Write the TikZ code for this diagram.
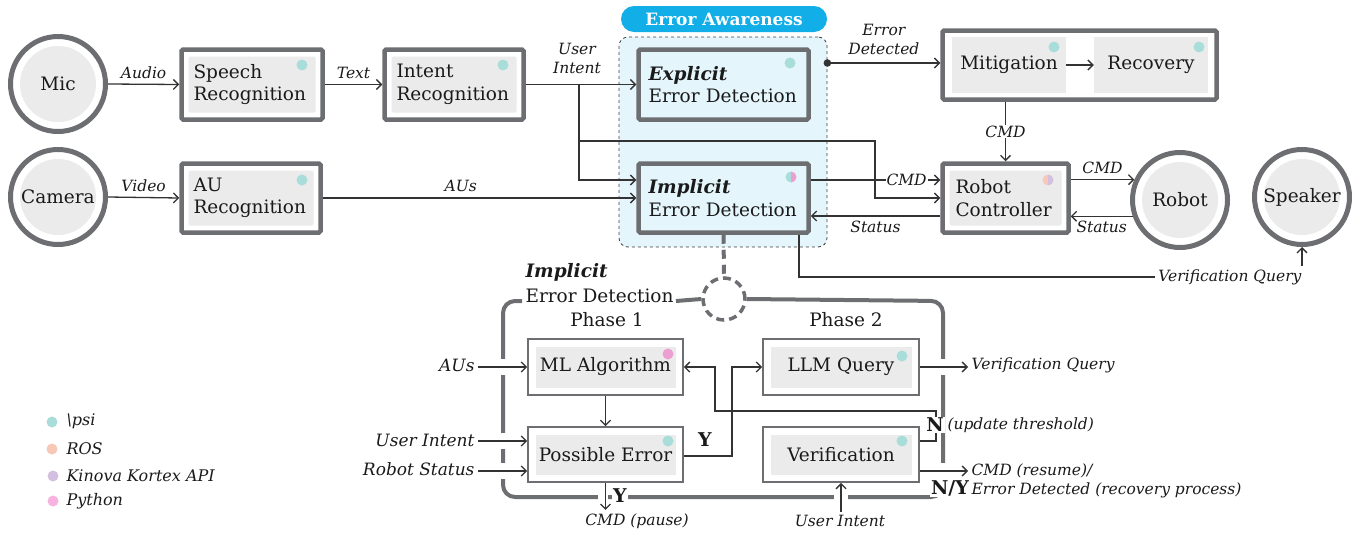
\documentclass[tikz,border=0pt]{standalone}
\usepackage{fontspec}
\setmainfont{DejaVu Serif}
\usetikzlibrary{arrows.meta,calc}
\definecolor{gb}{HTML}{6D6E71}
\definecolor{gf}{HTML}{EBEBEC}
\definecolor{tealdot}{HTML}{A9DDD9}
\definecolor{pinkdot}{HTML}{EE9FD2}
\definecolor{pydot}{HTML}{F6B3DF}
\definecolor{peachdot}{HTML}{F8C8B6}
\definecolor{purpdot}{HTML}{D3C0E0}
\definecolor{eacyan}{HTML}{12AEE8}
\definecolor{lblue}{HTML}{E4F5FC}
\definecolor{lnc}{HTML}{333333}
\definecolor{txt}{HTML}{1A1A1A}
\begin{document}
\begin{tikzpicture}[x=1pt,y=-1pt,
  every node/.style={font=\fontsize{18.5}{22.5}\selectfont, text=txt},
  bigbox/.style={draw=gb, line width=4.5pt, fill=white, rounded corners=1.5pt, inner xsep=12pt, align=left,
    path picture={\fill[gf] ([xshift=7pt,yshift=7pt]path picture bounding box.south west) rectangle ([xshift=-7pt,yshift=-7pt]path picture bounding box.north east);}},
  bluebox/.style={draw=gb, line width=4.5pt, fill=lblue, rounded corners=1.5pt, inner xsep=10pt, align=left},
  smallbox/.style={draw=gb, line width=1.8pt, fill=white, minimum width=155pt, minimum height=56pt,
    path picture={\fill[gf] ([xshift=7.5pt,yshift=7.5pt]path picture bounding box.south west) rectangle ([xshift=-7.5pt,yshift=-7.5pt]path picture bounding box.north east);}},
  dev/.style={circle, draw=gb, line width=5pt, fill=white, minimum size=95pt, inner sep=0pt,
    path picture={\fill[gf] (path picture bounding box.center) circle (38pt);}},
  conn/.style={draw=lnc, line width=1.3pt},
  arr/.style={conn, -{Straight Barb[length=5pt,width=10pt]}},
  lab/.style={font=\fontsize{15.5}{19}\selectfont\itshape},
  blab/.style={font=\fontsize{17}{20}\selectfont\itshape},
  leg/.style={font=\fontsize{16}{19}\selectfont\itshape, anchor=west},
  yn/.style={font=\fontsize{19}{22}\selectfont\bfseries},
]
\useasboundingbox (0,0) rectangle (1359,533);

% ---------- Error Awareness region ----------
\node[draw=black!75, dashed, line width=0.8pt, fill=lblue, rounded corners=9pt, minimum width=208pt, minimum height=210pt, inner sep=0pt] (ea) at (723,142) {};
\node[fill=eacyan, rounded corners=13pt, minimum width=206pt, minimum height=26pt, inner sep=0pt, text=white, font=\fontsize{17}{20}\selectfont\bfseries] (eatitle) at (724,19) {Error Awareness};

% ---------- devices ----------
\node[dev] (mic) at (58,84) {Mic};
\node[dev] (cam) at (58,197) {Camera};
\node[dev] (robot) at (1180,200) {Robot};
\node[dev] (spk) at (1302,197) {Speaker};

% ---------- top boxes ----------
\node[bigbox, minimum width=141pt, text width=117pt, minimum height=70pt] (speech) at (252,84.5) {Speech\\Recognition};
\node[bigbox, minimum width=139pt, text width=115pt, minimum height=70pt] (intent) at (454,84.5) {Intent\\Recognition};
\node[bigbox, minimum width=139pt, text width=115pt, minimum height=69pt] (au) at (251,198) {AU\\Recognition};
\node[bluebox, minimum width=170pt, text width=150pt, minimum height=70pt] (expl) at (723.5,84.5) {\textbf{\textit{Explicit}}\\Error Detection};
\node[bluebox, minimum width=170pt, text width=150pt, minimum height=69pt] (impl) at (723.5,198) {\textbf{\textit{Implicit}}\\Error Detection};
\node[draw=gb, line width=4.5pt, fill=white, rounded corners=1.5pt, minimum width=274pt, minimum height=69pt, inner sep=0pt] (mitbox) at (1079.5,65) {};
\node[fill=gf, minimum width=114pt, minimum height=56pt, inner sep=0pt] (mit) at (1009,65) {Mitigation};
\node[fill=gf, minimum width=114pt, minimum height=56pt, inner sep=0pt] (rec) at (1151,65) {Recovery};
\node[bigbox, minimum width=126pt, text width=100pt, minimum height=69pt, inner xsep=13pt] (rc) at (1005.5,198) {Robot\\Controller};

% dots in top boxes
\fill[tealdot] (302,65) circle (5.5pt);
\fill[tealdot] (503,65) circle (5.5pt);
\fill[tealdot] (302,180) circle (5.5pt);
\fill[tealdot] (790,63) circle (5.5pt);
\fill[tealdot] (1054,47) circle (5.5pt);
\fill[tealdot] (1199,47) circle (5.5pt);
\begin{scope}\clip (784,170) rectangle (791,184); \fill[tealdot] (791,177) circle (5.5pt);\end{scope}
\begin{scope}\clip (791,170) rectangle (798,184); \fill[pinkdot] (791,177) circle (5.5pt);\end{scope}
\begin{scope}\clip (1041,173) rectangle (1048,187); \fill[peachdot] (1048,180) circle (5.5pt);\end{scope}
\begin{scope}\clip (1048,173) rectangle (1055,187); \fill[purpdot] (1048,180) circle (5.5pt);\end{scope}

% ---------- top connectors ----------
\draw[arr] (mic.east) -- node[lab, above=2pt] {Audio} (speech.west);
\draw[arr] (cam.east) -- node[lab, above=2pt] {Video} (au.west);
\draw[arr] (speech.east) -- node[lab, above=2pt] {Text} (intent.west);
\draw[arr] (intent.east) -- (expl.west);
\node[lab, align=center] (uilab) at (577,58) {User\\Intent};
\coordinate (b1) at (579,84);
\coordinate (b2) at (579,141);
\draw[arr] (b1) |- (impl.west |- 0,180);
\draw[arr] (b2) -| (875,198) -- (rc.west |- 0,198);
\draw[arr] (au.east) -- node[lab, above=2pt, pos=0.44] {AUs} (impl.west |- au.east);
\draw[arr] (impl.east |- 0,180) -- node[lab, fill=white, inner sep=1pt, pos=0.74] {CMD} (rc.west |- 0,180);
\draw[arr] (rc.west |- 0,216) -- node[lab, below=1pt] {Status} (impl.east |- 0,216);
\coordinate (edot) at (ea.east |- 0,63);
\fill[lnc] (edot) circle (3.8pt);
\draw[arr] (edot) -- node[lab, above=4pt, align=center] {Error\\Detected} (mitbox.west |- edot);
\draw[arr] (mit.east) -- (rec.west);
\draw[arr] (mitbox.south -| rc.north) -- node[lab, fill=white, inner sep=1pt] {CMD} (rc.north);
\draw[arr] (rc.east |- robot.156) -- node[lab, above=2pt] {CMD} (robot.156);
\draw[arr] (robot.199) -- node[lab, below=1pt] {Status} (rc.east |- robot.199);
\node[lab, anchor=east] (vq1) at (1305,277) {Verification Query};
\draw[conn] (impl.south -| 799,0) |- (vq1.west);
\draw[arr] (spk.south |- vq1.north) -- (spk.south);

% ---------- implicit detail frame ----------
\node[circle, draw=gb, line width=3.5pt, dash pattern=on 8pt off 5pt, minimum size=42pt, inner sep=0pt] (dc) at (724,299) {};
\draw[gb, line width=4pt, dash pattern=on 9pt off 6pt] (impl.south) -- (dc.north);
\draw[gb, line width=4pt, rounded corners=12pt] (522,301) -| (503,497) -| (943,301) -- (dc.east);
\draw[gb, line width=4pt] (676,301) -- (dc.west);
\node[anchor=west, font=\fontsize{18.5}{22}\selectfont\bfseries\itshape] (ititle) at (522,272) {Implicit};
\node[anchor=west] (idt) at (522,296) {Error Detection};
\node (ph1) at (607,320) {Phase 1};
\node (ph2) at (846,320) {Phase 2};

% gaps in the frame where lines cross
\fill[white] (497,359) rectangle (509,375);
\fill[white] (497,433) rectangle (509,449);
\fill[white] (497,463) rectangle (509,479);
\fill[white] (937,359) rectangle (949,375);
\fill[white] (937,463) rectangle (949,490);
\fill[white] (598,491) rectangle (608,503);
\fill[white] (834,491) rectangle (848,503);

\node[smallbox] (ml) at (605.5,367) {ML Algorithm};
\node[smallbox, minimum height=55pt] (pe) at (605.5,454.5) {Possible Error};
\node[smallbox, minimum width=156pt] (llm) at (841,367) {LLM Query};
\node[smallbox, minimum width=156pt, minimum height=55pt] (ver) at (841,454.5) {Verification};
\fill[pinkdot] (668,354) circle (5.5pt);
\fill[tealdot] (668,441) circle (5.5pt);
\fill[tealdot] (902,356) circle (5.5pt);
\fill[tealdot] (902,441) circle (5.5pt);

% ---------- lower connectors ----------
\node[blab, anchor=east] (tau) at (478,365) {AUs};
\node[blab, anchor=east] (tui) at (478,440) {User Intent};
\node[blab, anchor=east] (trs) at (478,469) {Robot Status};
\draw[arr] (tau.east |- ml.west) -- (ml.west);
\draw[arr] (tui.east |- 0,441) -- (pe.west |- 0,441);
\draw[arr] (trs.east |- 0,471) -- (pe.west |- 0,471);
\draw[arr] (ml.south) -- (pe.north);
\coordinate (j1) at (732,367);
\draw[arr] (pe.east |- 0,456) -| (j1) -- (llm.west);
\node[yn] (ylab) at (705,440) {Y};
\node[lab, anchor=west] (vq2) at (968,365) {Verification Query};
\draw[arr] (llm.east) -- (vq2.west |- llm.east);
\draw[arr] (ver.east |- 0,441) -| (936,411) -| (715,367) -- (ml.east |- 0,367);
\node[yn, fill=white, inner sep=1pt] (nlab) at (935,425) {N};
\node[lab, anchor=west] (upd) at (944,425) {(update threshold)};
\node[lab, anchor=west, align=left] (cres) at (968,481) {CMD (resume)/\\Error Detected (recovery process)};
\draw[arr] (ver.east |- 0,471) -- (cres.west |- 0,471);
\node[yn, fill=white, inner sep=1pt] (nylab) at (950,488) {N/Y};
\node[lab] (cmdp) at (637,521) {CMD (pause)};
\draw[arr] (pe.south) -- (pe.south |- cmdp.north);
\node[yn, fill=white, inner sep=1pt] (ylab2) at (620,496) {Y};
\node[lab] (uib) at (840,521) {User Intent};
\draw[arr] (uib.north -| ver.south) -- (ver.south);

% ---------- legend ----------
\fill[tealdot] (52,422) circle (5.5pt);
\fill[peachdot] (52,449) circle (5.5pt);
\fill[purpdot] (53,476) circle (5.5pt);
\fill[pydot] (53,501) circle (5.5pt);
\node[leg] (lg1) at (63,421) {\textbackslash psi};
\node[leg] (lg2) at (63,449) {ROS};
\node[leg] (lg3) at (63,476) {Kinova Kortex API};
\node[leg] (lg4) at (63,501) {Python};
\end{tikzpicture}
\end{document}
